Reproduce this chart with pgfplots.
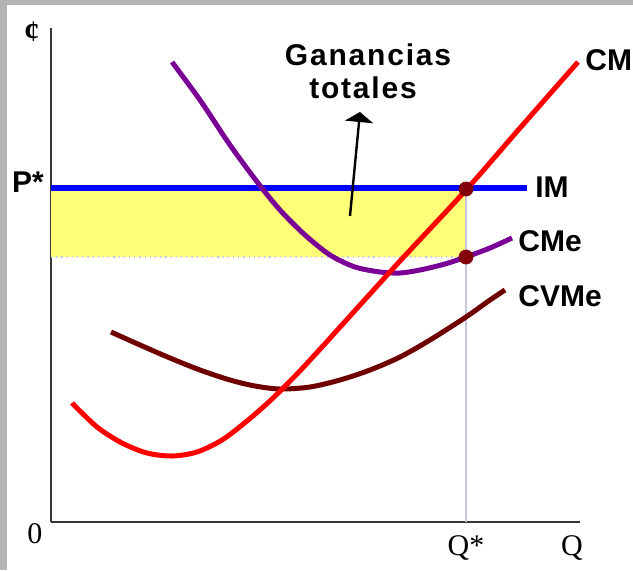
\documentclass[border=0pt]{standalone}
\usepackage{pgfplots}
\pgfplotsset{compat=1.18}
\usepackage{fontspec}
\setmainfont{Liberation Serif}
\setsansfont{Liberation Sans}
\newfontfamily\spaced[LetterSpace=6]{Liberation Sans}
\usetikzlibrary{arrows.meta}

\definecolor{cmred}{RGB}{255,0,0}
\definecolor{cmepurple}{RGB}{122,0,150}
\definecolor{cvmemaroon}{RGB}{110,0,0}
\definecolor{imblue}{RGB}{0,0,255}
\definecolor{profit}{RGB}{255,255,120}
\definecolor{dotred}{RGB}{130,0,10}
\definecolor{guide}{RGB}{200,200,220}
\definecolor{framegray}{RGB}{180,180,180}
\definecolor{axisgray}{RGB}{55,55,55}

\newcommand{\lab}{\sffamily\bfseries\fontsize{15}{17}\selectfont}
\newcommand{\ser}{\rmfamily\fontsize{15}{17}\selectfont}

\begin{document}
\begin{tikzpicture}
\path[use as bounding box] (-25.5pt,-24pt) rectangle (291pt,261pt);
\fill[framegray] (-25.5pt,-24pt) rectangle (-22pt,261pt);
\fill[framegray] (-25.5pt,258.5pt) rectangle (291pt,261pt);
\begin{axis}[
  anchor=origin, at={(0,0)},
  x=0.5pt, y=0.5pt,
  xmin=0, xmax=529, ymin=0, ymax=494,
  axis x line=bottom, axis y line=left,
  axis line style={-, line width=1pt, color=axisgray},
  ticks=none,
  clip=false,
]
% area of total profit
\addplot[fill=profit, draw=none] coordinates {(0,265) (415,265) (415,334) (0,334)} -- cycle;
% guide lines
\addplot[guide, line width=0.6pt, dotted] coordinates {(0,265) (415,265)};
\addplot[guide, line width=0.6pt] coordinates {(415,0) (415,334)};
% IM
\addplot[imblue, line width=3pt] coordinates {(0,334) (476,334)};
% CVMe
\addplot[cvmemaroon, line width=2.5pt, smooth] coordinates {
  (60,190) (89,177) (119,164) (149,152) (179,142) (204,136) (229,133)
  (259,135) (289,142) (319,152) (349,165) (379,182) (415,205) (439,222) (454,232)};
% CMe
\addplot[cmepurple, line width=2.5pt, smooth] coordinates {
  (121,460) (149,422) (179,377) (207,339) (229,312) (254,287) (279,267)
  (304,255) (329,250) (349,249) (369,252) (394,258) (415,265) (439,274) (461,284)};
% CM
\addplot[cmred, line width=2.5pt, smooth] coordinates {
  (21,119) (46,95) (71,79) (96,69) (121,66) (146,70) (171,82) (196,101)
  (221,123) (246,148) (271,175) (309,217) (349,261) (415,332)
  (469,394) (527,460)};
% points
\addplot[only marks, mark=*, mark size=3.5pt, mark options={fill=dotred, draw=dotred}]
  coordinates {(415,333) (415,265)};
% arrow and labels
\draw[line width=1.2pt, -{Triangle[width=14pt,length=5pt]}] (axis cs:299,306) -- (axis cs:309,410);
\node[inner sep=0pt] at (axis cs:317,467) {\spaced\bfseries\fontsize{15}{17}\selectfont Ganancias};
\node[inner sep=0pt] at (axis cs:312,434) {\spaced\bfseries\fontsize{15}{17}\selectfont totales};
\node[anchor=west, inner sep=0pt] at (axis cs:534,462) {\lab CM};
\node[anchor=west, inner sep=0pt] at (axis cs:484,335) {\lab IM};
\node[anchor=west, inner sep=0pt] at (axis cs:467,281) {\lab CMe};
\node[anchor=west, inner sep=0pt] at (axis cs:467,226) {\lab CVMe};
\node[inner sep=0pt] at (axis cs:-23,340) {\lab P*};
\node[inner sep=0pt] at (axis cs:-19,490) {\rmfamily\bfseries\fontsize{15}{17}\selectfont ¢};
\node[inner sep=0pt] at (axis cs:-16,-12) {\ser 0};
\node[inner sep=0pt] at (axis cs:415,-26) {\ser Q*};
\node[inner sep=0pt] at (axis cs:521,-26) {\ser Q};
\end{axis}
\end{tikzpicture}
\end{document}
